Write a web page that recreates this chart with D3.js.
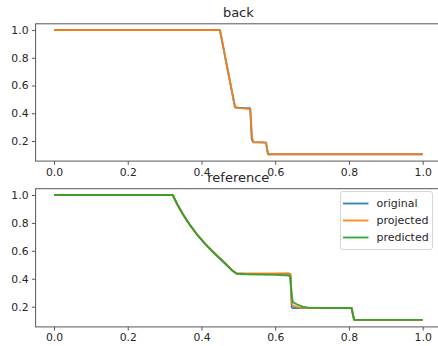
<!DOCTYPE html>
<html>
<head>
<meta charset="utf-8">
<script src="https://cdn.jsdelivr.net/npm/d3@7"></script>
<style>
  html, body { margin: 0; padding: 0; background: #fff; }
  svg { display: block; }
  text { font-family: "DejaVu Sans", sans-serif; fill: #262626; }
</style>
</head>
<body>
<svg id="chart" width="438" height="346"></svg>
<script>
// ---- data -------------------------------------------------------------
const xTicks = [0.0, 0.2, 0.4, 0.6, 0.8, 1.0];
const yTicks = [0.2, 0.4, 0.6, 0.8, 1.0];
const seriesNames = ["original", "projected", "predicted"];
const seriesColors = ["#1f77b4", "#ff7f0e", "#2ca02c"];

// panel "back"
const backX =         [0, 0.45, 0.46, 0.47, 0.48, 0.491, 0.50, 0.52, 0.532, 0.5345, 0.5365, 0.541, 0.56, 0.575, 0.5805, 0.6, 0.8, 1.0];
const backOriginal =  [1, 1, 0.864, 0.728, 0.592, 0.443, 0.440, 0.437, 0.436, 0.32, 0.21, 0.190, 0.190, 0.188, 0.104, 0.104, 0.104, 0.104];
const backProjected = [1, 1, 0.864, 0.728, 0.592, 0.443, 0.438, 0.433, 0.430, 0.35, 0.23, 0.192, 0.190, 0.188, 0.104, 0.104, 0.104, 0.104];

// panel "reference"
const refX =          [0, 0.322, 0.335, 0.35, 0.37, 0.39, 0.41, 0.43, 0.45, 0.47, 0.485, 0.495, 0.52, 0.6, 0.636, 0.641, 0.645, 0.648, 0.66, 0.675, 0.69, 0.75, 0.807, 0.814, 0.9, 1.0];
const refOriginal =   [1, 1, 0.93, 0.86, 0.78, 0.71, 0.65, 0.595, 0.545, 0.495, 0.455, 0.437, 0.435, 0.435, 0.436, 0.432, 0.195, 0.190, 0.190, 0.190, 0.190, 0.190, 0.190, 0.105, 0.105, 0.105];
const refProjected =  [1, 1, 0.93, 0.86, 0.78, 0.71, 0.65, 0.595, 0.545, 0.495, 0.455, 0.437, 0.437, 0.437, 0.438, 0.430, 0.220, 0.208, 0.197, 0.192, 0.190, 0.190, 0.190, 0.105, 0.105, 0.105];
const refPredicted =  [1, 1, 0.93, 0.86, 0.78, 0.71, 0.65, 0.595, 0.545, 0.495, 0.455, 0.437, 0.432, 0.428, 0.423, 0.415, 0.280, 0.232, 0.215, 0.200, 0.193, 0.190, 0.190, 0.105, 0.105, 0.105];

// ---- layout -----------------------------------------------------------
const svg = d3.select("#chart");
const xDomain = [-0.05, 1.05];
const yDomain = [0.055, 1.045];
const axLeft = 35.6, axRight = 441.1;
const tickFont = "10.8px";

const panels = [
  { title: "back", top: 23.8, bottom: 161.1, xs: backX,
    series: [backOriginal, backProjected], legend: false },
  { title: "reference", top: 188.7, bottom: 326.9, xs: refX,
    series: [refOriginal, refProjected, refPredicted], legend: true }
];

const x = d3.scaleLinear().domain(xDomain).range([axLeft, axRight]);

panels.forEach(p => {
  const y = d3.scaleLinear().domain(yDomain).range([p.bottom, p.top]);
  const g = svg.append("g");

  // data lines
  const line = d3.line().x(d => x(d[0])).y(d => y(d[1]));
  p.series.forEach((vals, i) => {
    g.append("path")
      .datum(p.xs.map((xv, k) => [xv, vals[k]]))
      .attr("fill", "none")
      .attr("stroke", seriesColors[i])
      .attr("stroke-opacity", 0.9)
      .attr("stroke-width", 1.9)
      .attr("stroke-linejoin", "round")
      .attr("d", line);
  });

  // axes
  const xAxis = g.append("g")
    .attr("transform", `translate(0,${p.bottom})`)
    .call(d3.axisBottom(x).tickValues(xTicks).tickFormat(d3.format(".1f"))
      .tickSizeInner(3.7).tickSizeOuter(0).tickPadding(3.2));
  const yAxis = g.append("g")
    .attr("transform", `translate(${axLeft},0)`)
    .call(d3.axisLeft(y).tickValues(yTicks).tickFormat(d3.format(".1f"))
      .tickSizeInner(3.7).tickSizeOuter(0).tickPadding(3.4));
  [xAxis, yAxis].forEach(a => {
    a.select(".domain").remove();
    a.selectAll(".tick line").attr("stroke", "#444").attr("stroke-width", 0.9);
    a.selectAll(".tick text")
      .style("font-family", "DejaVu Sans, sans-serif")
      .style("font-size", tickFont).attr("fill", "#262626");
  });

  // frame
  g.append("rect")
    .attr("x", axLeft).attr("y", p.top)
    .attr("width", axRight - axLeft).attr("height", p.bottom - p.top)
    .attr("fill", "none").attr("stroke", "#555").attr("stroke-width", 1);

  // title
  g.append("text")
    .attr("x", (axLeft + axRight) / 2).attr("y", p.top - 7)
    .attr("text-anchor", "middle")
    .style("font-size", "13px")
    .text(p.title);

  // legend
  if (p.legend) {
    const lg = g.append("g");
    lg.append("rect")
      .attr("x", 340.5).attr("y", 191.5).attr("width", 92).attr("height", 58)
      .attr("rx", 2.5).attr("fill", "#fff").attr("fill-opacity", 0.8)
      .attr("stroke", "#d6d6d6").attr("stroke-width", 1);
    seriesNames.forEach((name, i) => {
      const cy = 203.5 + i * 17;
      lg.append("line")
        .attr("x1", 343).attr("x2", 368.5).attr("y1", cy).attr("y2", cy)
        .attr("stroke", seriesColors[i]).attr("stroke-opacity", 0.9)
        .attr("stroke-width", 1.9);
      lg.append("text")
        .attr("x", 376.5).attr("y", cy + 3.9)
        .style("font-size", "11px")
        .text(name);
    });
  }
});
</script>
</body>
</html>
